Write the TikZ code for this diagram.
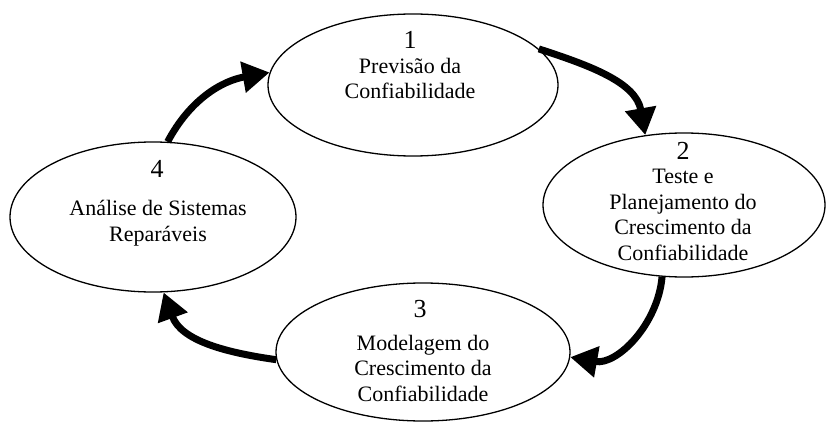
\documentclass[tikz,border=0pt]{standalone}
\usepackage{fontspec}
\setmainfont{Liberation Serif}
\usetikzlibrary{arrows.meta,shapes.geometric}
\begin{document}
\begin{tikzpicture}[x=1pt,y=1pt,
  ell/.style={draw,ellipse,line width=1.3pt,inner sep=0pt},
  num/.style={font=\fontsize{26}{30}\selectfont,anchor=base,inner sep=0pt},
  txt/.style={font=\fontsize{22}{25.5}\selectfont,align=center,anchor=base,inner sep=0pt},
  flow/.style={line width=7pt,-{Triangle[length=27pt,width=30pt]}}]
\useasboundingbox (0,0) rectangle (826,-422);
\node[ell,minimum width=290pt,minimum height=142pt] (e1) at (413,-85) {};
\node[ell,minimum width=282pt,minimum height=144pt] (e2) at (684,-205) {};
\node[ell,minimum width=294pt,minimum height=138pt] (e3) at (423,-352) {};
\node[ell,minimum width=286pt,minimum height=150pt] (e4) at (153,-217) {};
\node[num] (n1) at (410,-49) {1};
\node[txt] (t1) at (410,-99) {Previsão da\\Confiabilidade};
\node[num] (n2) at (683,-160) {2};
\node[txt] (t2) at (683,-260) {Teste e\\Planejamento do\\Crescimento da\\Confiabilidade};
\node[num] (n3) at (420,-317) {3};
\node[txt] (t3) at (423,-401) {Modelagem do\\Crescimento da\\Confiabilidade};
\node[num] (n4) at (157,-177) {4};
\node[txt] (t4) at (158,-241) {Análise de Sistemas\\Reparáveis};
\draw[flow] (e4.79) to[out=62,in=190] (e1.175);
\draw[flow] (e1.16) to[out=-18,in=100] (e2.119);
\draw[flow] (e2.253) to[out=-95,in=-10] (e3.358);
\draw[flow] (e3.183) to[out=172,in=-70] (e4.278);
\end{tikzpicture}
\end{document}
